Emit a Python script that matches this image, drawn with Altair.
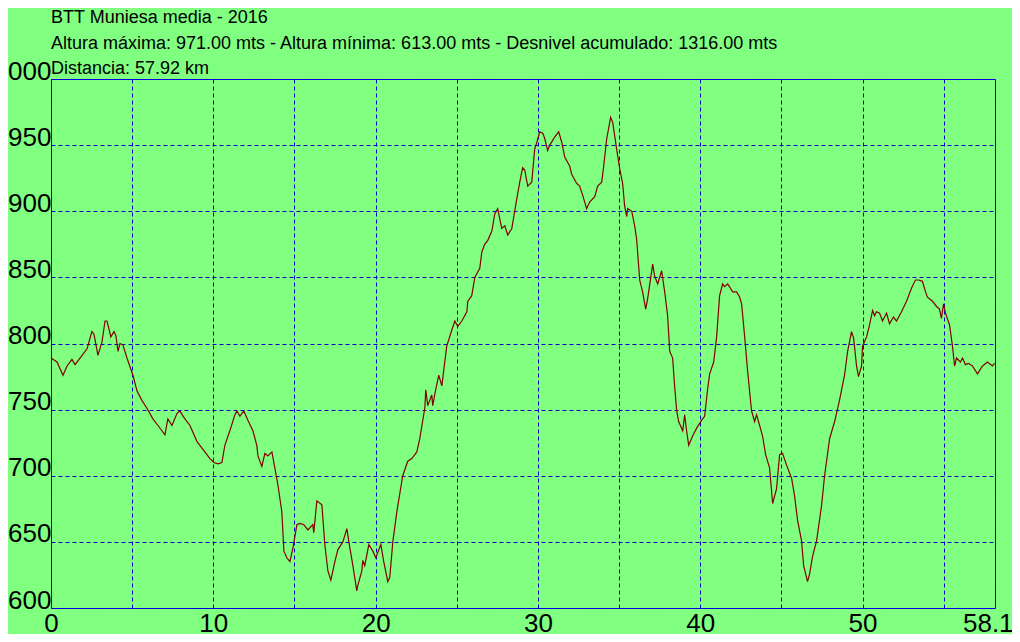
import altair as alt
import pandas as pd

title_lines = [
    "BTT Muniesa media - 2016",
    "Altura máxima: 971.00 mts - Altura mínima: 613.00 mts - Desnivel acumulado: 1316.00 mts",
    "Distancia: 57.92 km",
]

km = [0.00, 0.37, 0.74, 0.99, 1.29, 1.48, 1.79, 2.22, 2.52, 2.65, 2.89, 3.14, 3.33, 3.45, 3.69, 3.88, 4.00, 4.13, 4.25, 4.43,
      4.68, 5.05, 5.30, 5.60, 5.91, 6.28, 6.59, 7.02, 7.20, 7.45, 7.76, 7.94, 8.25, 8.56, 8.99, 9.17, 9.48, 9.79, 10.04, 10.28,
      10.53, 10.71, 11.02, 11.33, 11.45, 11.64, 11.88, 12.13, 12.44, 12.68, 12.75, 12.99, 13.18, 13.36, 13.61, 13.79, 13.98, 14.22, 14.35, 14.53,
      14.72, 14.90, 15.15, 15.33, 15.58, 15.83, 16.13, 16.19, 16.38, 16.69, 16.87, 17.06, 17.24, 17.49, 17.67, 17.98, 18.23, 18.35, 18.60, 18.84,
      18.90, 19.15, 19.21, 19.33, 19.58, 19.83, 20.01, 20.32, 20.50, 20.75, 20.87, 21.06, 21.31, 21.67, 21.98, 22.23, 22.54, 22.72, 23.03, 23.09,
      23.21, 23.46, 23.52, 23.65, 23.89, 24.08, 24.38, 24.69, 24.88, 25.06, 25.31, 25.62, 25.68, 25.92, 26.11, 26.42, 26.54, 26.72, 26.91, 27.16,
      27.34, 27.52, 27.77, 27.96, 28.14, 28.39, 28.57, 28.69, 28.88, 29.06, 29.19, 29.37, 29.62, 29.80, 29.93, 30.11, 30.30, 30.42, 30.60, 30.73,
      31.03, 31.28, 31.47, 31.65, 31.96, 32.08, 32.39, 32.57, 32.76, 33.00, 33.19, 33.50, 33.68, 33.93, 34.05, 34.24, 34.48, 34.61, 34.85, 35.04,
      35.22, 35.34, 35.47, 35.53, 35.78, 35.96, 36.08, 36.27, 36.45, 36.64, 36.76, 37.07, 37.19, 37.38, 37.62, 37.81, 37.99, 38.12, 38.30, 38.42,
      38.55, 38.67, 38.92, 39.04, 39.16, 39.29, 39.53, 39.78, 40.09, 40.27, 40.46, 40.58, 40.83, 41.01, 41.19, 41.38, 41.50, 41.69, 42.00, 42.24,
      42.43, 42.55, 42.73, 42.92, 43.16, 43.35, 43.47, 43.66, 43.84, 44.03, 44.27, 44.46, 44.70, 44.89, 45.07, 45.32, 45.63, 45.81, 46.00, 46.24,
      46.37, 46.49, 46.61, 46.74, 46.92, 47.17, 47.48, 47.66, 47.97, 48.28, 48.58, 48.89, 49.08, 49.32, 49.45, 49.63, 49.75, 49.94, 50.00, 50.25,
      50.43, 50.62, 50.74, 50.86, 51.05, 51.23, 51.48, 51.66, 51.91, 52.09, 52.40, 52.71, 53.02, 53.26, 53.45, 53.69, 53.88, 54.00, 54.31, 54.56,
      54.74, 54.86, 54.99, 55.11, 55.36, 55.54, 55.67, 55.79, 56.03, 56.16, 56.34, 56.53, 56.77, 57.08, 57.39, 57.70, 58.00, 58.13]

altura = [789, 786, 776, 783, 788, 784, 789, 796, 809, 807, 791, 801, 817, 817, 805, 809, 806, 794, 800, 799,
          789, 776, 764, 757, 751, 743, 738, 731, 743, 738, 747, 749, 743, 738, 726, 723, 718, 713, 710, 709,
          710, 723, 734, 746, 749, 745, 749, 742, 734, 723, 715, 707, 717, 715, 718, 706, 693, 673, 643, 638,
          635, 645, 663, 664, 663, 659, 663, 657, 681, 678, 648, 628, 621, 635, 644, 650, 660, 650, 632, 613,
          617, 628, 636, 632, 648, 643, 638, 648, 635, 620, 623, 650, 673, 700, 711, 713, 718, 728, 751, 765,
          753, 761, 753, 762, 776, 768, 798, 810, 817, 813, 817, 824, 832, 836, 850, 857, 869, 875, 878, 885,
          898, 902, 887, 889, 882, 887, 900, 909, 922, 933, 931, 919, 922, 947, 952, 960, 959, 955, 946, 950,
          956, 960, 952, 941, 934, 928, 921, 919, 912, 902, 907, 911, 919, 922, 934, 955, 971, 967, 947, 932,
          921, 904, 896, 902, 900, 889, 879, 848, 839, 826, 834, 860, 851, 845, 855, 839, 821, 794, 789, 768,
          749, 741, 734, 746, 734, 723, 730, 736, 742, 745, 766, 777, 786, 805, 836, 845, 843, 845, 839, 839,
          835, 830, 806, 779, 749, 741, 746, 738, 730, 716, 706, 679, 690, 716, 717, 708, 698, 685, 666, 651,
          632, 626, 620, 626, 639, 651, 678, 700, 728, 741, 757, 776, 794, 809, 804, 783, 775, 783, 798, 805,
          814, 825, 821, 824, 823, 817, 823, 815, 820, 817, 824, 832, 842, 848, 848, 847, 839, 835, 832, 828,
          826, 819, 830, 823, 814, 798, 783, 789, 786, 789, 784, 785, 783, 777, 783, 786, 783, 785]

x_ticks = [0, 5, 10, 15, 20, 25, 30, 35, 40, 45, 50, 55, 58.16]
y_ticks = [600, 650, 700, 750, 800, 850, 900, 950, 1000]

df = pd.DataFrame({"km": km, "altura": altura})

GREEN = "#80FF80"
FONT = "Liberation Sans"

chart = (
    alt.Chart(df)
    .mark_line(color="#800000", strokeWidth=1.2)
    .encode(
        x=alt.X(
            "km:Q",
            scale=alt.Scale(domain=[0, 58.16], nice=False, zero=False),
            axis=alt.Axis(
                values=x_ticks,
                title=None,
                grid=True,
                gridColor="#0000CC",
                gridDash=[4, 3],
                gridWidth=1,
                domain=False,
                ticks=False,
                labelFlush=False,
                labelOverlap=False,
                labelFont=FONT,
                labelFontSize=26,
                labelColor="black",
                labelPadding=2,
                labelExpr="datum.value > 58 ? '58.16' : (datum.value % 10 == 0 ? format(datum.value, 'd') : '')",
            ),
        ),
        y=alt.Y(
            "altura:Q",
            scale=alt.Scale(domain=[600, 1000], nice=False, zero=False),
            axis=alt.Axis(
                values=y_ticks,
                format="d",
                title=None,
                grid=True,
                gridColor="#0000CC",
                gridDash=[4, 3],
                gridWidth=1,
                domain=False,
                ticks=False,
                labelOverlap=False,
                labelFlush=False,
                labelFont=FONT,
                labelFontSize=26,
                labelColor="black",
                labelPadding=0,
                labelBaseline="alphabetic",
            ),
        ),
    )
    .properties(
        width=944,
        height=529,
        title=alt.TitleParams(
            text=title_lines,
            anchor="start",
            frame="group",
            font=FONT,
            fontSize=18,
            fontWeight="normal",
            color="black",
            lineHeight=25.5,
            offset=-20,
        ),
        padding={"left": 43, "top": 71, "right": 17, "bottom": 26},
        autosize=alt.AutoSizeParams(type="none"),
        background=GREEN,
    )
    .configure_view(fill=GREEN, stroke="#0000FF", strokeWidth=1)
)

chart.save("out.html", embed_options={"renderer": "svg", "actions": False})
